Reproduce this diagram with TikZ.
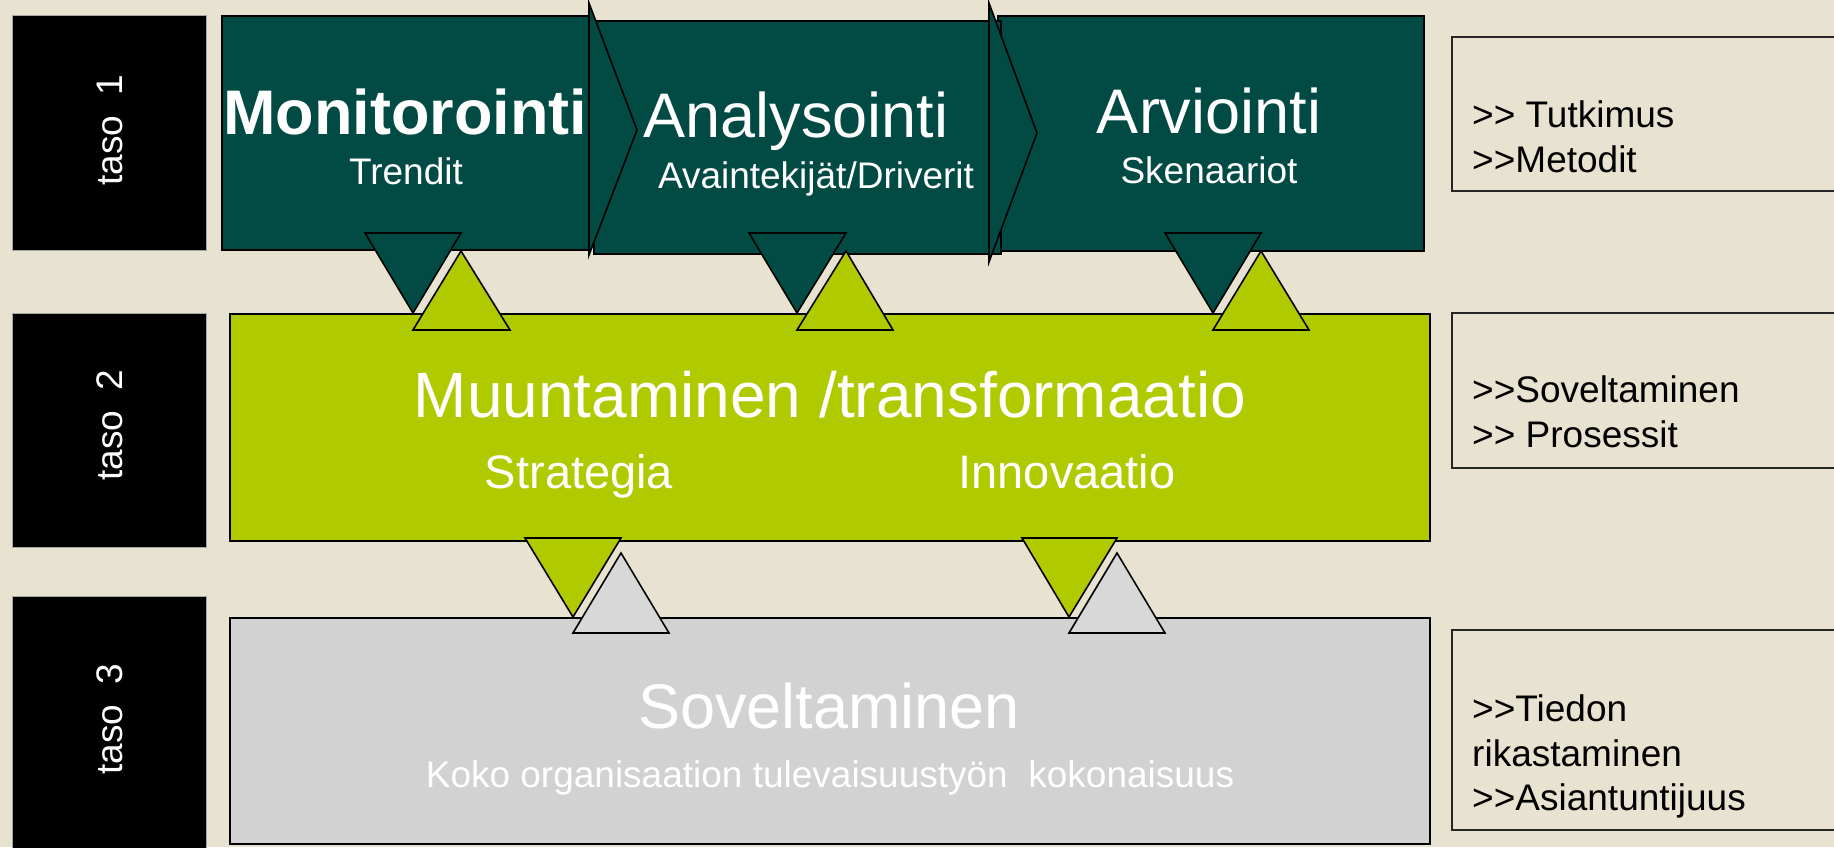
\documentclass[tikz,border=0pt]{standalone}
\usepackage{fontspec}
\setmainfont{Liberation Sans}
\definecolor{bgbeige}{RGB}{232,226,208}
\definecolor{darkteal}{RGB}{2,75,69}
\definecolor{limegreen}{RGB}{175,203,0}
\definecolor{greybox}{RGB}{210,210,210}
\definecolor{tipgrey}{RGB}{216,216,216}
\tikzset{
  box/.style={draw=black, line width=1.5pt, inner sep=0pt, anchor=north west},
  tasobox/.style={box, fill=black, draw=gray!70, line width=1pt},
  notebox/.style={box, draw=black!85, line width=1.5pt},
  tri/.style={draw=black, line width=1.6pt, line join=miter},
  tasotext/.style={text=white, rotate=90, inner sep=0pt, font=\fontsize{37}{44}\selectfont},
  bigtext/.style={text=white, anchor=base, inner sep=0pt, font=\fontsize{63}{70}\selectfont},
  subtext/.style={text=white, anchor=base, inner sep=0pt, font=\fontsize{37}{44}\selectfont},
  notetext/.style={anchor=base west, inner sep=0pt, font=\fontsize{37}{45}\selectfont},
}

\begin{document}
\begin{tikzpicture}[x=1pt, y=-1pt]
  \fill[bgbeige] (0,0) rectangle (1834,847);
  \useasboundingbox (0,0) rectangle (1834,847);
  \clip (0,0) rectangle (1834,847);

  % level labels
  \node (t1) [tasobox, minimum width=194pt, minimum height=235pt] at (12,15) {};
  \node (t2) [tasobox, minimum width=194pt, minimum height=234pt] at (12,313) {};
  \node (t3) [tasobox, minimum width=194pt, minimum height=280pt] at (12,596) {};

  % main boxes
  \node (muu) [box, fill=limegreen, minimum width=1200pt, minimum height=227pt] at (229,313) {};
  \node (sov) [box, fill=greybox, minimum width=1200pt, minimum height=226pt] at (229,617) {};
  \node (mon) [box, fill=darkteal, minimum width=367pt, minimum height=234pt] at (221,15) {};
  \node (arv) [box, fill=darkteal, minimum width=426pt, minimum height=235pt] at (997,15) {};
  \node (ana) [box, fill=darkteal, minimum width=407pt, minimum height=233pt] at (593,20) {};

  % notes on the right
  \node (n1) [notebox, minimum width=420pt, minimum height=154pt] at (1451,36) {};
  \node (n2) [notebox, minimum width=420pt, minimum height=155pt] at (1451,312) {};
  \node (n3) [notebox, minimum width=420pt, minimum height=200pt] at (1451,629) {};

  % chevrons between the phases
  \draw[tri, fill=darkteal] (589,3) -- (637,130) -- (589,255) -- cycle;
  \draw[tri, fill=darkteal] (989,3) -- (1037,133) -- (989,262) -- cycle;

  % level 1 <-> level 2
  \draw[tri, fill=darkteal] (365,233) -- (461,233) -- (413,313) -- cycle;
  \draw[tri, fill=limegreen] (413,330) -- (510,330) -- (461,251) -- cycle;
  \draw[tri, fill=darkteal] (749,233) -- (846,233) -- (797,313) -- cycle;
  \draw[tri, fill=limegreen] (797,330) -- (893,330) -- (846,251) -- cycle;
  \draw[tri, fill=darkteal] (1165,233) -- (1261,233) -- (1213,313) -- cycle;
  \draw[tri, fill=limegreen] (1213,330) -- (1309,330) -- (1261,251) -- cycle;

  % level 2 <-> level 3
  \draw[tri, fill=limegreen] (525,538) -- (621,538) -- (573,617) -- cycle;
  \draw[tri, fill=tipgrey] (573,633) -- (669,633) -- (621,553) -- cycle;
  \draw[tri, fill=limegreen] (1022,538) -- (1117,538) -- (1069,617) -- cycle;
  \draw[tri, fill=tipgrey] (1069,633) -- (1165,633) -- (1117,553) -- cycle;

  % texts
  \node (t1txt) [tasotext] at (110,130) {taso~~1};
  \node (t2txt) [tasotext] at (110,425) {taso~~2};
  \node (t3txt) [tasotext] at (110,719) {taso~~3};

  \node (montxt) [bigtext, font=\fontsize{63}{70}\selectfont\bfseries] at (405,134) {Monitorointi};
  \node (monsub) [subtext] at (406,184) {Trendit};
  \node (anatxt) [bigtext] at (796,137) {Analysointi};
  \node (anasub) [subtext] at (816,188) {Avaintekijät/Driverit};
  \node (arvtxt) [bigtext] at (1209,133) {Arviointi};
  \node (arvsub) [subtext] at (1209,183) {Skenaariot};

  \node (muutxt) [bigtext, font=\fontsize{64}{70}\selectfont] at (830,417) {Muuntaminen /transformaatio};
  \node (strat) [subtext, font=\fontsize{47}{54}\selectfont] at (579,488) {Strategia};
  \node (innov) [subtext, font=\fontsize{47}{54}\selectfont] at (1067,488) {Innovaatio};

  \node (sovtxt) [bigtext] at (829,728) {Soveltaminen};
  \node (sovsub) [subtext] at (830,787) {Koko organisaation tulevaisuustyön~~kokonaisuus};

  \node (n1a) [notetext] at (1472,127) {>{}> Tutkimus};
  \node (n1b) [notetext] at (1472,172) {>{}>Metodit};
  \node (n2a) [notetext] at (1472,402) {>{}>Soveltaminen};
  \node (n2b) [notetext] at (1472,447) {>{}> Prosessit};
  \node (n3a) [notetext] at (1472,721) {>{}>Tiedon};
  \node (n3b) [notetext] at (1472,766) {rikastaminen};
  \node (n3c) [notetext] at (1472,810) {>{}>Asiantuntijuus};
\end{tikzpicture}
\end{document}
